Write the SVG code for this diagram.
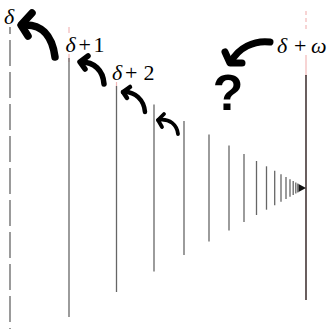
<svg xmlns="http://www.w3.org/2000/svg" width="328" height="329" viewBox="0 0 328 329">
  <style>
    .ln { stroke: #666; stroke-width: 1.3; fill: none; }
    .pk { stroke: #f2b8b8; stroke-width: 1.2; fill: none; }
    .arr { stroke: #000; fill: none; stroke-linecap: round; stroke-linejoin: round; }
    .lbl { font-family: "Liberation Serif", "DejaVu Serif", serif; font-size: 22px; fill: #000; }
    .it { font-style: italic; }
  </style>
  <rect width="328" height="329" fill="#fff"/>
  <g id="connectors">
    <line class="ln" x1="10" y1="27" x2="10" y2="329" stroke-dasharray="26 6" stroke-dashoffset="19" stroke="#777"/>
    <line class="pk" x1="69" y1="27" x2="69" y2="33"/>
    <line class="pk" x1="69" y1="54" x2="69" y2="62"/>
    <line class="ln" x1="69" y1="58" x2="69" y2="317"/>
    <line class="pk" x1="116.5" y1="82" x2="116.5" y2="90"/>
    <line class="ln" x1="116.5" y1="86" x2="116.5" y2="292"/>
    <line class="ln" x1="154" y1="104.5" x2="154" y2="271.5"/>
    <line class="ln" x1="184" y1="121" x2="184" y2="255"/>
    <line class="ln" x1="209" y1="134.5" x2="209" y2="241.5"/>
    <line class="ln" x1="229" y1="145.5" x2="229" y2="230.5"/>
    <line class="ln" x1="244" y1="154" x2="244" y2="222"/>
    <line class="ln" x1="256.5" y1="161" x2="256.5" y2="215"/>
    <line class="ln" x1="266.5" y1="166.3" x2="266.5" y2="209.7"/>
    <line class="ln" x1="274.7" y1="170.8" x2="274.7" y2="205.2"/>
    <line class="ln" x1="281" y1="174.2" x2="281" y2="201.8"/>
    <line class="ln" x1="286" y1="177" x2="286" y2="199"/>
    <line class="ln" x1="290" y1="179.2" x2="290" y2="196.8"/>
    <line class="ln" x1="293.2" y1="181" x2="293.2" y2="195"/>
    <line class="ln" x1="295.8" y1="182.4" x2="295.8" y2="193.6"/>
    <line class="ln" x1="297.8" y1="183.5" x2="297.8" y2="192.5"/>
    <polygon points="298.5,184 306,188 298.5,192" fill="#111"/>
    <line class="pk" x1="306" y1="11" x2="306" y2="30" stroke-dasharray="4 3"/>
    <line class="pk" x1="306" y1="55" x2="306" y2="76"/>
    <line x1="306" y1="75" x2="306" y2="300" stroke="#2a1a1a" stroke-width="1.4"/>
  </g>
  <g id="labels">
    <text class="lbl it" x="4" y="24">δ</text>
    <text class="lbl" y="52"><tspan class="it" x="65.5">δ</tspan><tspan x="78.5">+</tspan><tspan x="93.5">1</tspan></text>
    <text class="lbl" y="80"><tspan class="it" x="112">δ</tspan><tspan x="125">+</tspan><tspan x="143.5">2</tspan></text>
    <text class="lbl" y="53"><tspan class="it" x="277">δ</tspan><tspan x="294">+</tspan><tspan class="it" x="311">ω</tspan></text>
    <text x="228" y="110" text-anchor="middle" font-family="Liberation Sans, Arial, sans-serif" font-weight="bold" font-size="50" fill="#000">?</text>
  </g>
  <g id="arrows">
    <path class="arr" stroke-width="7.5" d="M24,25 C40,24 52,34 55,57"/>
    <polyline class="arr" stroke-width="7.5" points="32,13 21,25 28,36"/>
    <path class="arr" stroke-width="5.5" d="M81,62 C94,62 103,70 104,84"/>
    <polyline class="arr" stroke-width="5.5" points="88,56 80,62 85,69"/>
    <path class="arr" stroke-width="4.5" d="M123,92 C135,91 144,100 145,112"/>
    <polyline class="arr" stroke-width="4.5" points="130,87 123,92 127,98"/>
    <path class="arr" stroke-width="3.8" d="M158,120 C170,118 177,125 178,134"/>
    <polyline class="arr" stroke-width="3.8" points="164,114 158,120 162,127"/>
    <path class="arr" stroke-width="7" d="M270,42 C254,40 238,48 231,62"/>
    <polyline class="arr" stroke-width="7" points="225,52 230,63 242,63"/>
  </g>
</svg>
